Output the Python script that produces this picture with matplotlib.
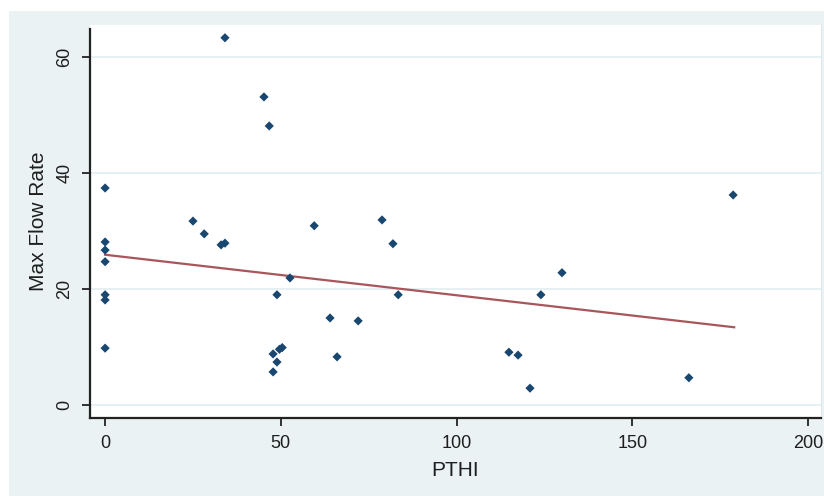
import numpy as np
import matplotlib.pyplot as plt
from matplotlib.patches import Rectangle

# PTHI vs max flow rate
pthi = [0, 0, 0, 0, 0, 0, 0,
        25.0, 28.2, 33.0, 34.1, 34.1, 45.2, 46.7,
        48.9, 47.8, 48.9, 47.8, 49.6, 50.4, 52.6,
        59.5, 64.0, 66.0, 72.0, 78.8, 81.9, 83.4,
        114.9, 117.5, 120.9, 124.0, 130.0, 166.1, 178.7]
flow = [37.4, 28.1, 26.7, 24.7, 19.0, 18.1, 9.8,
        31.7, 29.5, 27.6, 27.9, 63.3, 53.1, 48.1,
        19.0, 8.8, 7.4, 5.7, 9.6, 9.9, 21.9,
        30.9, 15.0, 8.3, 14.5, 31.9, 27.8, 19.0,
        9.1, 8.6, 2.9, 19.0, 22.8, 4.7, 36.2]

# fitted line ends
fit_x = [0, 179]
fit_y = [25.9, 13.4]

xticks = [0, 50, 100, 150, 200]
yticks = [0, 20, 40, 60]

bg = '#EAF2F3'
txt = '#1e1e1e'
plt.rcParams['font.family'] = ['Liberation Sans', 'DejaVu Sans']

fig = plt.figure(figsize=(8.24, 4.96), dpi=100)
fig.patch.set_facecolor('white')
# stata-ish outer background (the picture has a thin white border top/left)
fig.patches.append(Rectangle((9 / 824, 0), 1, (496 - 11) / 496,
                             transform=fig.transFigure, facecolor=bg,
                             edgecolor='none', zorder=-10))

ax = fig.add_axes([90 / 824, (496 - 418) / 496, (821 - 90) / 824, (418 - 25) / 496])
ax.set_facecolor('white')

for yt in yticks:
    ax.axhline(yt, color='#E2EEF1', lw=1.2, zorder=1)

ax.plot(fit_x, fit_y, color='#A8565B', lw=1.6, zorder=2)
ax.scatter(pthi, flow, marker='D', s=22, color='#1A476F', edgecolors='none', zorder=3)

ax.set_xlim(-4.3, 203.7)
ax.set_ylim(-2.24, 65.5)
ax.set_xticks(xticks)
ax.set_yticks(yticks)
ax.set_yticklabels([str(v) for v in yticks], rotation=90, va='center')

ax.spines['top'].set_visible(False)
ax.spines['right'].set_color('#DCEAEE')
ax.spines['left'].set_linewidth(1.6)
ax.spines['bottom'].set_linewidth(1.6)
ax.spines['left'].set_color('#222222')
ax.spines['bottom'].set_color('#222222')
ax.spines['left'].set_bounds(-2.24, 64.8)

ax.tick_params(axis='both', direction='out', length=6, width=1.3, color='#222222',
               labelsize=13, labelcolor=txt, pad=6)

ax.set_xlabel('PTHI', fontsize=15, color=txt, labelpad=7)
ax.set_ylabel('Max Flow Rate', fontsize=15, color=txt, labelpad=6)

fig.savefig('out.png', dpi=100, facecolor=fig.get_facecolor())
